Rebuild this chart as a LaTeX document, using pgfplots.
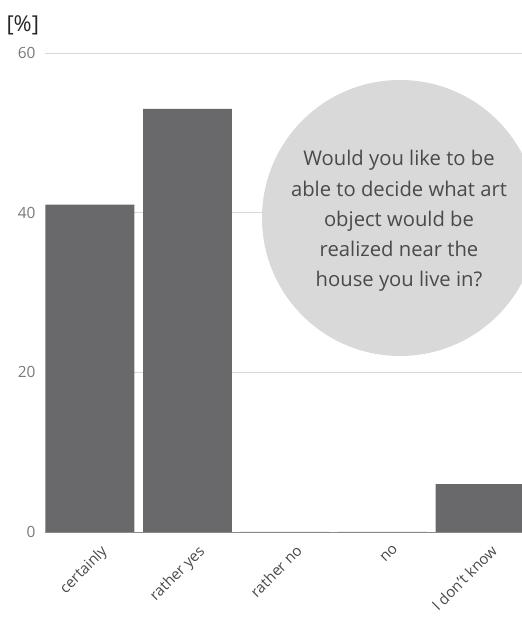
\documentclass[border=0pt]{standalone}
\usepackage{pgfplots}
\pgfplotsset{compat=1.18}
\usepackage{fontspec}
\setmainfont{Open Sans}
\definecolor{barc}{HTML}{69696C}
\definecolor{txt}{HTML}{4A4A4A}
\definecolor{tickc}{HTML}{7A7A7A}
\definecolor{grd}{HTML}{D8D8D8}
\definecolor{axc}{HTML}{8A8A8A}
\definecolor{circ}{HTML}{D9D9DA}
\begin{document}
\begin{tikzpicture}[x=1bp,y=1bp]
\path[use as bounding box] (0,0) rectangle (522,617);
\clip (0,0) rectangle (522,617);
\begin{axis}[
  at={(45bp,85bp)}, anchor=south west,
  scale only axis, width=477bp, height=479bp,
  xmin=-0.46, xmax=4.43, ymin=0, ymax=60,
  axis x line*=bottom, axis y line*=left,
  y axis line style={draw=none},
  x axis line style={draw=axc, line width=0.9bp, -},
  major tick length=0pt,
  ytick={0,20,40,60},
  ymajorgrids, grid style={grd, line width=0.8bp},
  xtick={0,1,2,3,4},
  xticklabels={certainly, rather yes, rather no, no, I don't know},
  xticklabel style={rotate=45, anchor=north east, text=txt, font=\fontsize{15}{17}\selectfont, xshift=2bp, yshift=-12bp},
  yticklabel style={text=tickc, font=\fontsize{15.5}{17}\selectfont, xshift=-6bp},
  /pgf/number format/assume math mode=true,
]
\addplot[ybar, fill=barc, draw=none, bar width=0.91] coordinates {(0,41) (1,53) (2,0) (3,0) (4,6)};
\end{axis}
\fill[circ] (400,399) circle (138);
\node[align=center, text=txt, font=\fontsize{20.3}{30.3}\selectfont] at (399,396) {Would you like to be\\ able to decide what art\\ object would be\\ realized near the\\ house you live in?};
\node[anchor=west, text=black!85, font=\fontsize{22}{24}\selectfont] at (3,592) {[\%]};
\end{tikzpicture}
\end{document}
